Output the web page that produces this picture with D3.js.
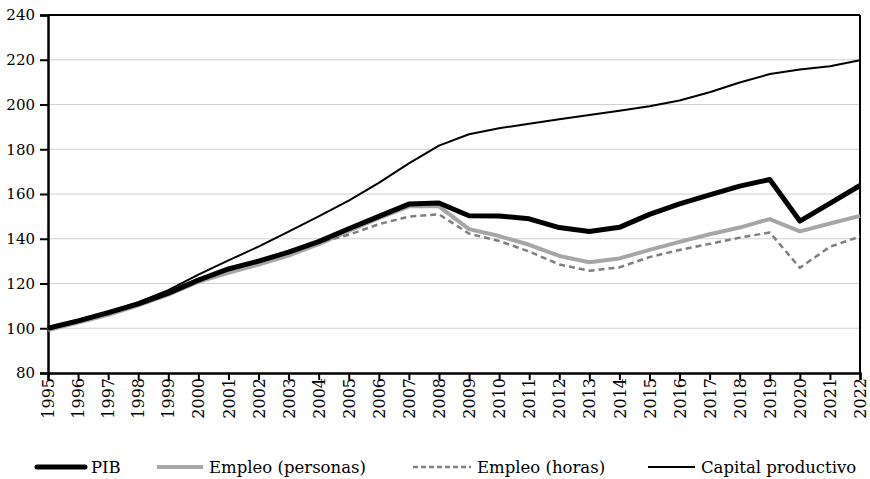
<!DOCTYPE html>
<html>
<head>
<meta charset="utf-8">
<script src="https://cdn.jsdelivr.net/npm/d3@7"></script>
<style>
  html, body { margin: 0; padding: 0; background: #fff; }
  svg text { font-family: "DejaVu Serif", serif; fill: #000; }
</style>
</head>
<body>
<svg id="chart" width="870" height="479"></svg>
<script>
const years = d3.range(1995, 2023).map(String);
const pib = [100, 103.3, 107, 110.9, 115.7, 121.5, 126.5, 130, 134, 138.7, 144.5, 150, 155.5, 156, 150.3, 150.2, 148.9, 145, 143.2, 145.1, 150.9, 155.6, 159.6, 163.5, 166.5, 147.9, 155.8, 163.8];
const empleoPersonas = [99.2, 102.5, 106, 110.2, 115, 120.8, 124.8, 128.5, 132.5, 137.6, 143.5, 149.2, 154.5, 154.5, 144.3, 141.2, 137.3, 132.3, 129.5, 131.2, 135, 138.6, 142, 145, 148.8, 143.3, 146.8, 150.2];
const empleoHoras = [99.5, 102.8, 106.3, 110.5, 115.3, 121.2, 126, 129.5, 133.5, 138.3, 141.8, 146.5, 149.9, 150.9, 142.3, 139, 134.3, 128.5, 125.7, 127.2, 131.8, 135, 137.7, 140.5, 142.8, 127, 136.4, 141];
const capital = [100, 103.5, 107.3, 111.6, 117, 124, 130.3, 136.5, 143.2, 150, 157, 165, 173.7, 181.6, 186.7, 189.4, 191.4, 193.4, 195.3, 197.2, 199.2, 201.8, 205.5, 209.8, 213.6, 215.6, 217.1, 219.8];
const yTicks = [80, 100, 120, 140, 160, 180, 200, 220, 240];
const seriesNames = ["PIB", "Empleo (personas)", "Empleo (horas)", "Capital productivo"];

const FONT = "'DejaVu Serif', serif";

const series = [
  { name: seriesNames[0], values: pib, color: "#000", width: 5, dash: null },
  { name: seriesNames[1], values: empleoPersonas, color: "#a6a6a6", width: 4, dash: null },
  { name: seriesNames[2], values: empleoHoras, color: "#7f7f7f", width: 2.5, dash: "6,4" },
  { name: seriesNames[3], values: capital, color: "#000", width: 2, dash: null }
];
const drawOrder = [1, 2, 0, 3];

const svg = d3.select("#chart");
const m = { left: 48, right: 10, top: 15, bottom: 106 };
const W = 870, H = 479;
const x = d3.scalePoint().domain(years).range([m.left, W - m.right]);
const y = d3.scaleLinear().domain([80, 240]).range([H - m.bottom, m.top]);

// gridlines
svg.append("g").selectAll("line").data(yTicks.slice(1, -1)).join("line")
  .attr("x1", m.left).attr("x2", W - m.right)
  .attr("y1", d => y(d)).attr("y2", d => y(d))
  .attr("stroke", "#d0d0d0").attr("stroke-width", 1);

// frame top/right
svg.append("line").attr("x1", m.left).attr("x2", W - m.right)
  .attr("y1", y(240)).attr("y2", y(240)).attr("stroke", "#000").attr("stroke-width", 2);
svg.append("line").attr("x1", W - m.right).attr("x2", W - m.right)
  .attr("y1", y(240)).attr("y2", y(80)).attr("stroke", "#000").attr("stroke-width", 2);

// y axis
const yAxis = svg.append("g").attr("transform", `translate(${m.left},0)`)
  .call(d3.axisLeft(y).tickValues(yTicks).tickSize(8).tickPadding(5).tickFormat(d3.format("d")));
yAxis.attr("font-family", FONT);
yAxis.select(".domain").attr("stroke", "#000").attr("stroke-width", 2.5);
yAxis.selectAll(".tick line").attr("stroke", "#000").attr("stroke-width", 2);
yAxis.selectAll("text").attr("font-size", 15).attr("font-family", FONT);

// x axis
const xAxis = svg.append("g").attr("transform", `translate(0,${y(80)})`)
  .call(d3.axisBottom(x).tickSize(7).tickPadding(0));
xAxis.attr("font-family", FONT);
xAxis.select(".domain").attr("stroke", "#000").attr("stroke-width", 2.5);
xAxis.selectAll(".tick line").attr("stroke", "#000").attr("stroke-width", 2);
xAxis.selectAll("text")
  .attr("font-size", 16).attr("font-family", FONT)
  .attr("transform", "rotate(-90)")
  .attr("text-anchor", "end")
  .attr("x", -5).attr("y", 0).attr("dy", "0.35em");

// lines
const line = d3.line().x((d, i) => x(years[i])).y(d => y(d));
svg.append("g").selectAll("path").data(drawOrder.map(i => series[i])).join("path")
  .attr("d", d => line(d.values))
  .attr("fill", "none")
  .attr("stroke", d => d.color)
  .attr("stroke-width", d => d.width)
  .attr("stroke-dasharray", d => d.dash)
  .attr("stroke-linejoin", "round");

// legend
const legendX = [37, 157, 413, 648];
const legendLen = [48, 46, 58, 47];
const lg = svg.append("g").attr("transform", "translate(0,467)");
const items = lg.selectAll("g").data(series).join("g")
  .attr("transform", (d, i) => `translate(${legendX[i]},0)`);
items.append("line").attr("x1", 0).attr("x2", (d, i) => legendLen[i]).attr("y1", 0).attr("y2", 0)
  .attr("stroke", d => d.color)
  .attr("stroke-width", d => d.width)
  .attr("stroke-linecap", (d, i) => i === 0 ? "round" : "butt")
  .attr("stroke-dasharray", d => d.dash ? "5,3" : null);
items.append("text").attr("x", (d, i) => legendLen[i] + 6).attr("y", 0).attr("dy", "0.35em")
  .attr("font-size", 16.5).attr("font-family", FONT).text(d => d.name);
</script>
</body>
</html>
